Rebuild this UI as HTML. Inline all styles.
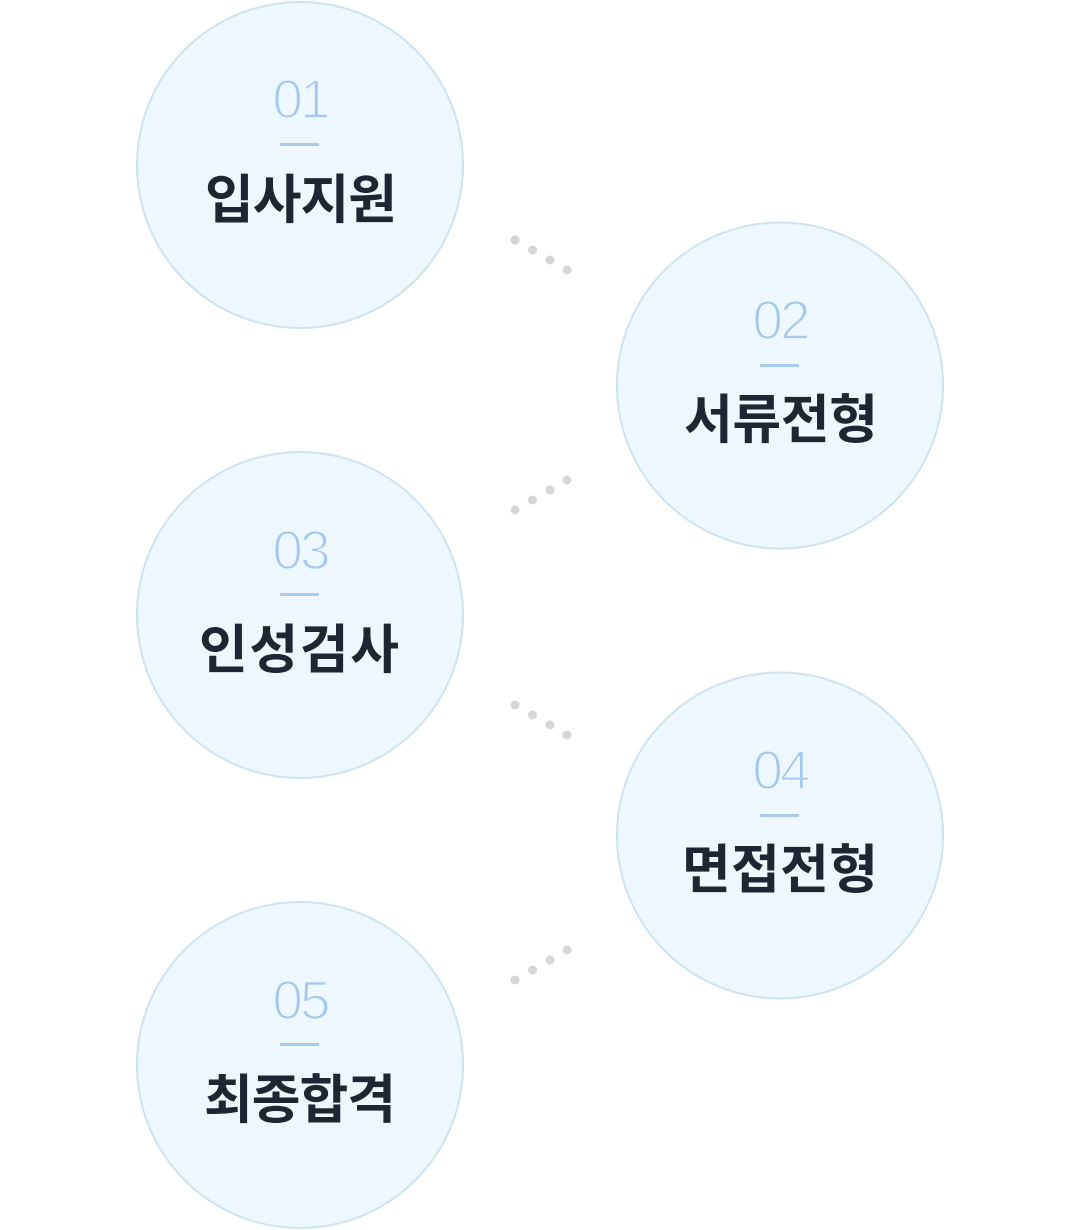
<!DOCTYPE html>
<html>
<head>
<meta charset="utf-8">
<style>
  html, body { margin: 0; padding: 0; background: #ffffff; }
  body { width: 1080px; height: 1230px; overflow: hidden; }
  svg { display: block; }
  .num { font-family: "Liberation Sans", sans-serif; font-size: 55px; fill: #a3c9ee; stroke: #eef7fd; stroke-width: 1.8px; paint-order: normal; letter-spacing: -3px; }
  .lbl { font-family: "Liberation Sans", "Noto Sans CJK KR", sans-serif; font-size: 53px; font-weight: bold; fill: #1f2633; }
</style>
</head>
<body>
<svg width="1080" height="1230" viewBox="0 0 1080 1230" xmlns="http://www.w3.org/2000/svg">
  <!-- dots -->
  <g fill="#d6d6d6">
    <circle cx="515" cy="240" r="4.5"/><circle cx="532.5" cy="250" r="4.5"/><circle cx="550" cy="260" r="4.5"/><circle cx="567" cy="270" r="4.5"/>
    <circle cx="515" cy="510" r="4.5"/><circle cx="532.5" cy="500" r="4.5"/><circle cx="550" cy="490" r="4.5"/><circle cx="567" cy="480" r="4.5"/>
    <circle cx="515" cy="705" r="4.5"/><circle cx="532.5" cy="715" r="4.5"/><circle cx="550" cy="725" r="4.5"/><circle cx="567" cy="735" r="4.5"/>
    <circle cx="515" cy="980" r="4.5"/><circle cx="532.5" cy="970" r="4.5"/><circle cx="550" cy="960" r="4.5"/><circle cx="567" cy="950" r="4.5"/>
  </g>

  <!-- circle 1 -->
  <circle cx="300" cy="165" r="163" fill="#eef7fd" stroke="#cfe3ef" stroke-width="2"/>
  <text class="num" x="300" y="118" text-anchor="middle">01</text>
  <rect x="280" y="143" width="39" height="3" fill="#a6cbee"/>
  <text class="lbl" x="205" y="218" textLength="192" lengthAdjust="spacing">입사지원</text>

  <!-- circle 2 -->
  <circle cx="780" cy="385.5" r="163" fill="#eef7fd" stroke="#cfe3ef" stroke-width="2"/>
  <text class="num" x="780" y="339" text-anchor="middle">02</text>
  <rect x="760" y="364" width="39" height="3" fill="#a6cbee"/>
  <text class="lbl" x="684" y="438" textLength="194" lengthAdjust="spacing">서류전형</text>

  <!-- circle 3 -->
  <circle cx="300" cy="615" r="163" fill="#eef7fd" stroke="#cfe3ef" stroke-width="2"/>
  <text class="num" x="300" y="569" text-anchor="middle">03</text>
  <rect x="280" y="593" width="39" height="3" fill="#a6cbee"/>
  <text class="lbl" x="199" y="668" textLength="200" lengthAdjust="spacing">인성검사</text>

  <!-- circle 4 -->
  <circle cx="780" cy="835.5" r="163" fill="#eef7fd" stroke="#cfe3ef" stroke-width="2"/>
  <text class="num" x="780" y="789" text-anchor="middle">04</text>
  <rect x="760" y="814" width="39" height="3" fill="#a6cbee"/>
  <text class="lbl" x="682" y="888" textLength="196" lengthAdjust="spacing">면접전형</text>

  <!-- circle 5 -->
  <circle cx="300" cy="1065" r="163" fill="#eef7fd" stroke="#cfe3ef" stroke-width="2"/>
  <text class="num" x="300" y="1019" text-anchor="middle">05</text>
  <rect x="280" y="1043" width="39" height="3" fill="#a6cbee"/>
  <text class="lbl" x="204" y="1118" textLength="192" lengthAdjust="spacing">최종합격</text>
</svg>
</body>
</html>
